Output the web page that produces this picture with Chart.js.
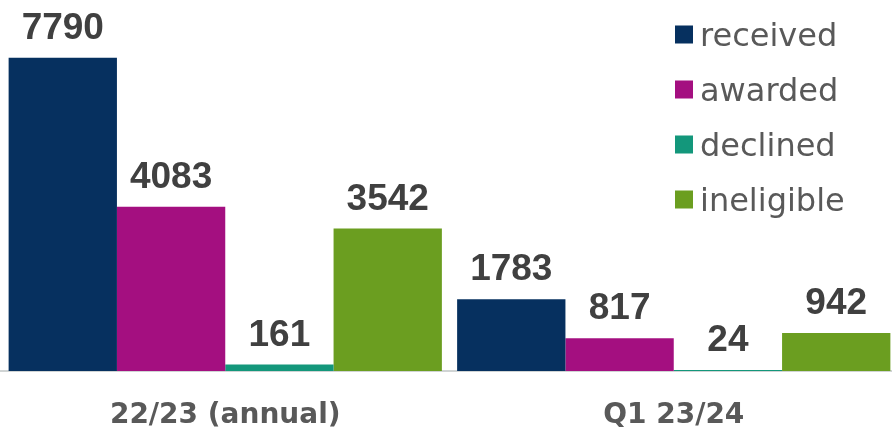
<!DOCTYPE html>
<html>
<head>
<meta charset="utf-8">
<script src="https://cdn.jsdelivr.net/npm/chart.js@4/dist/chart.umd.min.js"></script>
<style>
    html, body { margin: 0; padding: 0; background: #ffffff; overflow: hidden; }
    #wrap { width: 898px; height: 429px; }
</style>
</head>
<body>
<div id="wrap"><canvas id="BarChart"></canvas></div>
<script>
const categories = ['22/23 (annual)', 'Q1 23/24'];
const seriesNames = ['received', 'awarded', 'declined', 'ineligible'];
const received = [7790, 1783];
const awarded = [4083, 817];
const declined = [161, 24];
const ineligible = [3542, 942];
const colors = ['#06305f', '#a40f80', '#13977b', '#6b9e20'];

// value labels above each bar
const barLabels = {
    id: 'barLabels',
    afterDatasetsDraw(chart) {
        const ctx = chart.ctx;
        ctx.save();
        ctx.font = 'bold 37px "Liberation Sans", Arial, sans-serif';
        ctx.fillStyle = '#404040';
        ctx.textAlign = 'center';
        ctx.textBaseline = 'alphabetic';
        chart.data.datasets.forEach((ds, i) => {
            chart.getDatasetMeta(i).data.forEach((bar, j) => {
                ctx.fillText(ds.data[j], bar.x, bar.y - 19);
            });
        });
        ctx.restore();
    }
};

// legend drawn inside the plot, top right
const sideLegend = {
    id: 'sideLegend',
    afterDraw(chart) {
        const ctx = chart.ctx;
        ctx.save();
        ctx.font = '32px "DejaVu Sans", sans-serif';
        ctx.textBaseline = 'alphabetic';
        ctx.textAlign = 'left';
        chart.data.datasets.forEach((ds, i) => {
            const cy = 34.5 + i * 55;
            ctx.fillStyle = ds.backgroundColor;
            ctx.fillRect(675, cy - 9, 18, 18);
            ctx.fillStyle = '#595959';
            ctx.fillText(ds.label, 700, cy + 11.5);
        });
        ctx.restore();
    }
};

const data = [received, awarded, declined, ineligible];

const bar = document.getElementById('BarChart').getContext('2d');
const BarChart = new Chart(bar, {
    type: 'bar',
    data: {
        labels: categories,
        datasets: seriesNames.map((name, i) => ({
            label: name,
            data: data[i],
            backgroundColor: colors[i],
            borderWidth: 0,
            categoryPercentage: 0.966,
            barPercentage: 1
        }))
    },
    options: {
        responsive: true,
        maintainAspectRatio: false,
        animation: false,
        layout: {
            padding: { top: 9, left: 1, right: 0, bottom: 0 }
        },
        plugins: {
            legend: { display: false },
            tooltip: { enabled: false }
        },
        scales: {
            x: {
                grid: { display: false, drawTicks: false },
                border: { display: true, color: '#d0d4d4', width: 2 },
                afterFit: (scale) => { scale.height = 58; },
                ticks: {
                    padding: 28,
                    color: '#595959',
                    font: { family: '"DejaVu Sans", sans-serif', size: 28, weight: 'bold' }
                }
            },
            y: {
                display: false,
                min: 0,
                max: 9000
            }
        }
    },
    plugins: [barLabels, sideLegend]
});
</script>
</body>
</html>
